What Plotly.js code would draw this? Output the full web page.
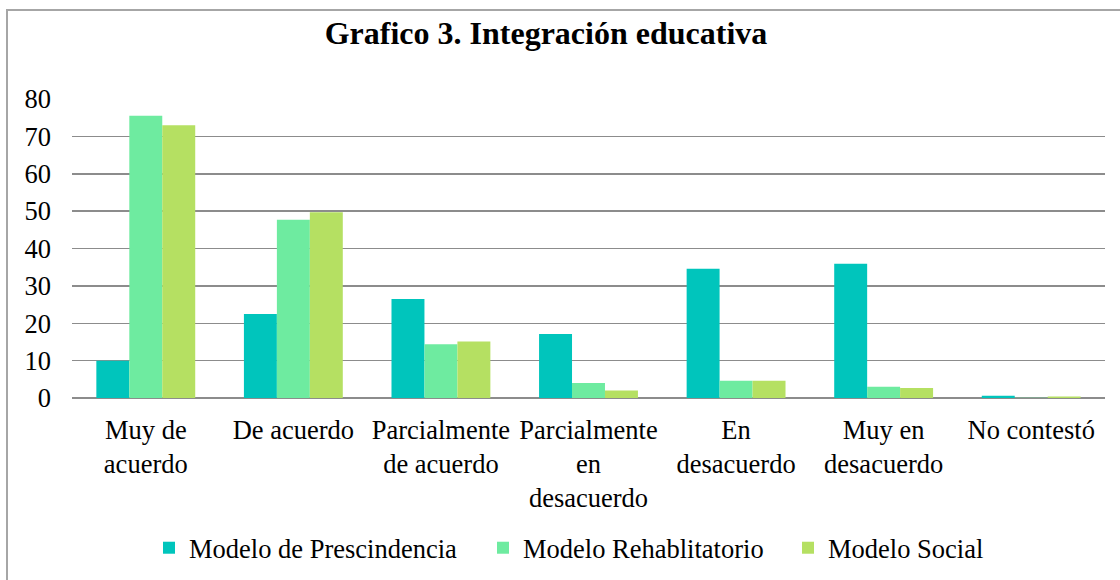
<!DOCTYPE html>
<html>
<head>
<meta charset="utf-8">
<script src="https://cdn.plot.ly/plotly-3.0.1.min.js"></script>
<style>
  html, body { margin: 0; padding: 0; overflow: hidden; background: #fff; }
  #chart { width: 1120px; height: 580px; }
  #frame { position: absolute; left: 6px; top: 9px; width: 1300px; height: 800px;
           border: 2px solid #a6a6a6; pointer-events: none; box-sizing: border-box; }
</style>
</head>
<body>
<div id="chart"></div>
<div id="frame"></div>
<script>
const categories = [
  "Muy de<br>acuerdo",
  "De acuerdo",
  "Parcialmente<br>de acuerdo",
  "Parcialmente<br>en<br>desacuerdo",
  "En<br>desacuerdo",
  "Muy en<br>desacuerdo",
  "No contestó"
];
const seriesNames = ["Modelo de Prescindencia", "Modelo Rehablitatorio", "Modelo Social"];
const prescindencia = [10.0, 22.5, 26.5, 17.1, 34.6, 35.9, 0.6];
const rehabilitatorio = [75.5, 47.7, 14.4, 4.0, 4.6, 3.0, 0.1];
const social = [73.0, 49.7, 15.1, 2.0, 4.6, 2.7, 0.4];
const yTicks = [0, 10, 20, 30, 40, 50, 60, 70, 80];
const colors = ["#00C5BC", "#6EEBA0", "#B5E062"];

const serif = "'Liberation Serif', 'Times New Roman', Times, serif";
const values = [prescindencia, rehabilitatorio, social];
const legendIds = ["legend", "legend2", "legend3"];
const legendX = [149, 483, 788];

const traces = values.map((v, i) => ({
  type: "bar",
  name: seriesNames[i],
  x: categories,
  y: v,
  legend: legendIds[i],
  marker: { color: colors[i], line: { width: 0 } },
  hoverinfo: "skip"
}));

function legendBox(px) {
  return {
    orientation: "h",
    xref: "container", x: px / 1120, xanchor: "left",
    yref: "container", y: 1 - 548 / 580, yanchor: "middle",
    font: { family: serif, size: 26.5, color: "#000" },
    itemwidth: 30,
    bgcolor: "rgba(0,0,0,0)",
    borderwidth: 0
  };
}

const layout = {
  width: 1120,
  height: 580,
  margin: { l: 72, r: 15, t: 99, b: 181.5 },
  paper_bgcolor: "#ffffff",
  plot_bgcolor: "#ffffff",
  barmode: "group",
  bargap: 0.33,
  bargroupgap: 0,
  font: { family: serif, size: 26.5, color: "#000" },
  title: {
    text: "<b>Grafico 3. Integración educativa</b>",
    font: { family: serif, size: 32, color: "#000" },
    xref: "container", x: 546 / 1120, xanchor: "center",
    yref: "container", y: 1 - 33 / 580, yanchor: "middle"
  },
  xaxis: {
    type: "category",
    tickfont: { family: serif, size: 26.5, color: "#000" },
    showgrid: false,
    showline: false,
    ticks: "",
    ticklabelstandoff: 13
  },
  yaxis: {
    range: [0, 80],
    tickvals: yTicks,
    ticktext: yTicks.map(String),
    tickfont: { family: serif, size: 26.5, color: "#000" },
    showgrid: true,
    gridcolor: "#8c8c8c",
    gridwidth: 1.5,
    zeroline: true,
    zerolinecolor: "#8c8c8c",
    zerolinewidth: 1.5,
    showline: false,
    ticks: "",
    ticklabelstandoff: 20,
    fixedrange: true
  },
  showlegend: true,
  legend: legendBox(legendX[0]),
  legend2: legendBox(legendX[1]),
  legend3: legendBox(legendX[2])
};

Plotly.newPlot("chart", traces, layout, { displayModeBar: false, staticPlot: true });
</script>
</body>
</html>
